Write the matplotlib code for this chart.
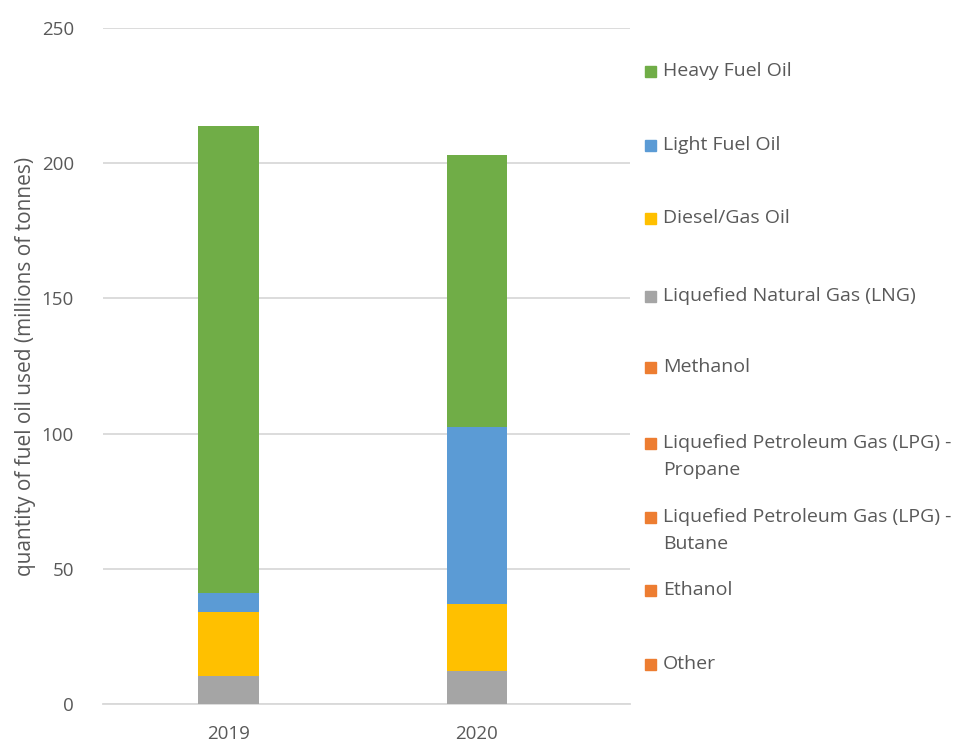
import matplotlib.pyplot as plt
from matplotlib.patches import Rectangle

plt.rcParams['font.family'] = ['Open Sans', 'DejaVu Sans']

years = ['2019', '2020']
lng = [10.4, 12.3]
diesel = [23.6, 24.7]
light_fo = [6.9, 65.3]
heavy_fo = [172.9, 100.6]
zeros = [0, 0]

series = [
    ('Liquefied Natural Gas (LNG)', lng, '#a5a5a5'),
    ('Diesel/Gas Oil', diesel, '#ffc000'),
    ('Light Fuel Oil', light_fo, '#5b9bd5'),
    ('Heavy Fuel Oil', heavy_fo, '#70ad47'),
]
legend_labels = ['Heavy Fuel Oil', 'Light Fuel Oil', 'Diesel/Gas Oil',
                 'Liquefied Natural Gas (LNG)', 'Methanol',
                 'Liquefied Petroleum Gas (LPG) -\nPropane',
                 'Liquefied Petroleum Gas (LPG) -\nButane',
                 'Ethanol', 'Other']
legend_colors = ['#70ad47', '#5b9bd5', '#ffc000', '#a5a5a5',
                 '#ed7d31', '#ed7d31', '#ed7d31', '#ed7d31', '#ed7d31']

W, H = 975, 745
fig = plt.figure(figsize=(W / 100, H / 100), dpi=100)
ax = fig.add_axes([103 / W, (H - 704) / H, (630 - 103) / W, (704 - 28) / H])

x = [0, 1]
bottom = [0, 0]
for name, vals, col in series:
    ax.bar(x, vals, width=0.245, bottom=bottom, color=col, zorder=3)
    bottom = [b + v for b, v in zip(bottom, vals)]
# zero-valued series (legend only)
for i in range(4):
    ax.bar(x, zeros, width=0.245, bottom=bottom, color='#ed7d31', zorder=3)

ax.set_xlim(-0.505, 1.616)
ax.set_ylim(0, 250)
ax.set_yticks([0, 50, 100, 150, 200, 250])
ax.set_xticks(x)
ax.set_xticklabels(years)
ax.grid(axis='y', color='#d9d9d9', linewidth=1.3, zorder=0)
for s in ['top', 'right', 'left']:
    ax.spines[s].set_visible(False)
ax.spines['bottom'].set_color('#d9d9d9')
ax.spines['bottom'].set_linewidth(1.3)
ax.tick_params(length=0, colors='#595959', labelsize=13.5)
ax.tick_params(axis='y', pad=21)
ax.tick_params(axis='x', pad=15)
ax.set_ylabel('quantity of fuel oil used (millions of tonnes)', fontsize=15,
              color='#595959', labelpad=4)

# legend drawn by hand to match spacing
legend_y = [71, 145, 218, 296, 367, 443, 517, 590, 664]
for lab, col, yy in zip(legend_labels, legend_colors, legend_y):
    fig.patches.append(Rectangle((645 / W, (H - yy - 5.5) / H), 11 / W, 11 / H,
                                 transform=fig.transFigure, color=col))
    for i, line in enumerate(lab.split('\n')):
        fig.text(663 / W, (H - yy - 27 * i) / H, line, fontsize=14,
                 color='#595959', va='center', ha='left')

fig.savefig('out.png', dpi=100)
